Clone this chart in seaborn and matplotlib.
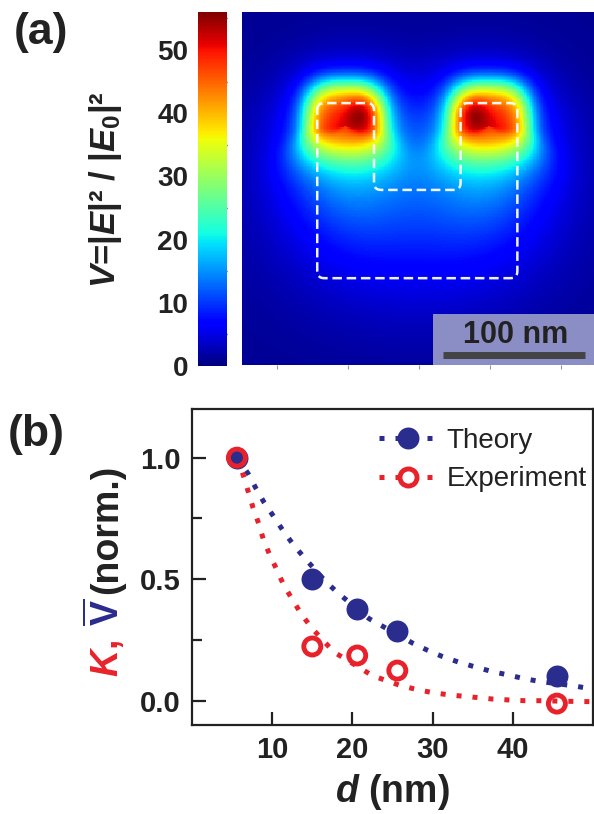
import numpy as np
import matplotlib
matplotlib.use("Agg")
import matplotlib.pyplot as plt
import seaborn as sns
from matplotlib.lines import Line2D
from matplotlib.patches import Rectangle
from matplotlib.ticker import MultipleLocator

# ---------------- data ----------------
# (a) field-enhancement map (nm grid, y downwards)
grid_nm = 248
cbar_ticks = [0, 10, 20, 30, 40, 50]
v_max = 56
post_left = [53, 154]          # nm
post_right = [93, 194]         # nm
post_top = 64
hot_x = [84, 163]              # hottest spot, toward the gap
hot_y = 71
core_amp, hot_amp, glow_amp = 36, 7, 12
broad_amp, base_level = 7, 1.0
outline_x = [53, 93, 93, 154, 154, 194, 194, 53]
outline_y = [64, 64, 125, 125, 64, 64, 187, 187]
hm_ticks = [25, 75, 125, 175, 225]
scalebar_nm = 100
scalebar_text = "100 nm"

# (b) normalized curves
d_points = [5.6, 15.0, 20.6, 25.6, 45.5]
v_theory = [1.0, 0.50, 0.376, 0.285, 0.103]
k_exp = [1.0, 0.223, 0.186, 0.124, -0.012]
blue_fit_d = [5.6, 7.0, 8.0, 9.0, 10.2, 11.3, 12.5, 13.9, 16.7, 18.2, 22.1,
              27.5, 29.4, 31.2, 33.3, 35.4, 37.4, 39.4, 41.5, 43.4, 47.4, 49.4, 50]
blue_fit_v = [1.0, 0.934, 0.872, 0.815, 0.757, 0.702, 0.648, 0.592, 0.489, 0.443, 0.337,
              0.237, 0.207, 0.182, 0.158, 0.138, 0.12, 0.106, 0.09, 0.079, 0.062, 0.051, 0.048]
red_fit_d = [5.6, 6.4, 7.0, 7.6, 8.3, 8.9, 9.7, 10.6, 11.4, 12.5, 13.6, 14.9, 17.7,
             22.5, 26.0, 28.3, 30.2, 32.3, 34.3, 37.4, 39.5, 41.5, 43.4, 47.6, 50]
red_fit_k = [1.0, 0.927, 0.861, 0.795, 0.730, 0.664, 0.599, 0.537, 0.478, 0.417, 0.358, 0.30, 0.20,
             0.103, 0.062, 0.044, 0.032, 0.023, 0.017, 0.007, 0.003, 0.0, 0.0, -0.003, -0.004]
x_ticks = [10, 20, 30, 40]
y_ticks = [0.0, 0.5, 1.0]
y_minor = [0.25, 0.75]

BLUE = "#2a2c8e"
RED = "#e8222b"
INK = "#222222"

# ---------------- style ----------------
sns.set_theme(style="ticks")
plt.rcParams["font.family"] = ["Liberation Sans", "DejaVu Sans"]
plt.rcParams["mathtext.fontset"] = "custom"
plt.rcParams["mathtext.rm"] = "Liberation Sans:bold"
plt.rcParams["mathtext.bf"] = "Liberation Sans:bold"
plt.rcParams["mathtext.it"] = "Liberation Sans:italic:bold"

W, H = 594, 814
fig = plt.figure(figsize=(W / 100, H / 100), dpi=100)

def fx(px):
    return px / W

def fy(py):
    return 1 - py / H

# ---------------- (a) ----------------
xs = np.arange(grid_nm) + 0.5
X, Y = np.meshgrid(xs, xs)
field = np.full_like(X, base_level)
field += broad_amp * np.exp(-((X - 124) / 90) ** 2 - ((Y - 140) / 70) ** 2)
core_yc = 80.0
ax_half, ay_up, ay_down = 27.0, 29.4, 17.0
for xl, xr, hx in zip(post_left, post_right, hot_x):
    cx = (xl + xr) / 2
    dx = np.abs(X - cx) / ax_half
    dyr = Y - core_yc
    dy = np.where(dyr < 0, -dyr / ay_up, dyr / ay_down)
    rho = (dx ** 3 + dy ** 3) ** (1 / 3)
    down_share = np.clip(np.where(dyr > 0, dy, 0) ** 2 / (rho ** 2 + 1e-9), 0, 1)
    s = 0.18 + 0.32 * down_share
    field += core_amp / (1 + np.exp((rho - 1) / s))
    field += hot_amp * np.exp(-((X - hx) / 11) ** 2 - ((Y - hot_y) / 12) ** 2)
    gy = Y - 90
    sy = np.where(gy < 0, 45, 60)
    field += glow_amp * np.exp(-((X - cx) / 45) ** 2 - (gy / sy) ** 2)

cax = fig.add_axes([fx(198), fy(366), fx(29), 354 / H])
ax1 = fig.add_axes([fx(242), fy(365), fx(352), 353 / H])
sns.heatmap(field, ax=ax1, cmap="jet", vmin=0, vmax=v_max, cbar_ax=cax,
            xticklabels=False, yticklabels=False, rasterized=True,
            cbar_kws={"ticks": cbar_ticks})

cax.yaxis.set_ticks_position("left")
cax.tick_params(axis="y", which="major", left=True, right=False, labelleft=True,
                labelright=False, length=0, pad=7, labelsize=20)
cax.yaxis.set_minor_locator(MultipleLocator(5))
cax.tick_params(axis="y", which="minor", left=False, right=True, direction="in",
                length=4, width=1, color=INK)
for t in cax.get_yticklabels():
    t.set_fontweight("bold")
    t.set_color(INK)
for s_ in cax.spines.values():
    s_.set_visible(False)

ax1.set_xticks(hm_ticks)
ax1.set_yticks([])
ax1.tick_params(axis="x", length=3, width=0.8, color="#999999", direction="out")
for s_ in ax1.spines.values():
    s_.set_visible(False)


def rounded_path(px, py, r=5, n=8):
    pts = np.column_stack([px, py]).astype(float)
    m = len(pts)
    out = []
    t = np.linspace(0, 1, n)[:, None]
    for i in range(m):
        p0, p1, p2 = pts[i - 1], pts[i], pts[(i + 1) % m]
        d1 = (p0 - p1) / np.linalg.norm(p0 - p1)
        d2 = (p2 - p1) / np.linalg.norm(p2 - p1)
        a, b = p1 + d1 * r, p1 + d2 * r
        out.append((1 - t) ** 2 * a + 2 * (1 - t) * t * p1 + t ** 2 * b)
    out = np.vstack(out + [out[0][:1]])
    return out[:, 0], out[:, 1]

ox, oy = rounded_path(outline_x, outline_y, r=5)
ax1.plot(ox, oy, color="white", lw=1.8, dashes=(3.8, 1.9), alpha=0.95)

ax1.add_patch(Rectangle((134.5, 212.5), 114, 37, facecolor="#8b8dc5",
                        edgecolor="none", zorder=5))
ax1.text(193, 227, scalebar_text, ha="center", va="center", fontsize=22,
         fontweight="bold", color=INK, zorder=6)
ax1.plot([141.5, 141.5 + scalebar_nm], [241, 241], color="#444444", lw=5,
         solid_capstyle="butt", zorder=6)

fig.text(fx(105), fy(190), "$V$=|$E$|² / |$E_0$|²", rotation=90, ha="center",
         va="center", fontsize=25, fontweight="bold", color=INK)
fig.text(fx(14), fy(12), "(a)", ha="left", va="top", fontsize=32, fontweight="bold",
         color=INK)

# ---------------- (b) ----------------
ax2 = fig.add_axes([fx(192), fy(725), fx(401), 316 / H])
dots = (0, (1, 2.2))
sns.lineplot(x=blue_fit_d, y=blue_fit_v, ax=ax2, color=BLUE, lw=3.6, sort=False,
             linestyle=dots, zorder=2)
sns.lineplot(x=red_fit_d, y=red_fit_k, ax=ax2, color=RED, lw=3.6, sort=False,
             linestyle=dots, zorder=2)
sns.scatterplot(x=d_points, y=v_theory, ax=ax2, color=BLUE, s=250, linewidth=0,
                zorder=3)
sns.scatterplot(x=d_points, y=k_exp, ax=ax2, color=RED, s=150, linewidth=3.5,
                zorder=4)
coll = ax2.collections[-1]
coll.set_facecolor("none")
coll.set_edgecolor(RED)
coll.set_linewidth(3.5)

ax2.set_xlim(0, 50)
ax2.set_ylim(-0.1, 1.2)
ax2.set_xticks(x_ticks)
ax2.set_yticks(y_ticks)
ax2.set_yticklabels([f"{v:.1f}" for v in y_ticks])
ax2.set_yticks(y_minor, minor=True)
ax2.tick_params(axis="both", which="major", direction="in", length=10, width=1.6,
                labelsize=21, pad=8, color=INK, labelcolor=INK,
                top=False, right=False)
ax2.tick_params(axis="x", which="major", length=9.5)
ax2.tick_params(axis="y", which="minor", direction="in", length=7, width=1.6,
                color=INK, left=True, right=False)
for t in ax2.get_xticklabels() + ax2.get_yticklabels():
    t.set_fontweight("bold")
for s_ in ax2.spines.values():
    s_.set_visible(True)
    s_.set_linewidth(1.6)
    s_.set_color(INK)

ax2.set_xlabel("$d$ (nm)", fontsize=27, fontweight="bold", color=INK, labelpad=6)
ax2.set_ylabel("")

handles = [
    Line2D([], [], color=BLUE, lw=3.6, linestyle=dots, marker="o", markersize=15.8,
           markerfacecolor=BLUE, markeredgewidth=0),
    Line2D([], [], color=RED, lw=3.6, linestyle=dots, marker="o", markersize=12.3,
           markerfacecolor="white", markeredgecolor=RED, markeredgewidth=3.5),
]
leg = ax2.legend(handles, ["Theory", "Experiment"], loc="upper right",
                 bbox_to_anchor=(0.985, 0.94), frameon=False, fontsize=20,
                 handlelength=2.1, handletextpad=0.35, labelspacing=0.45,
                 borderpad=0, borderaxespad=0)
for t in leg.get_texts():
    t.set_color(INK)

fig.text(fx(8), fy(414), "(b)", ha="left", va="top", fontsize=32, fontweight="bold",
         color=INK)

# composite y label for (b)
fig.canvas.draw()
renderer = fig.canvas.get_renderer()
pieces = [("$K$,", RED, 14), ("$\\overline{\\mathrm{V}}$", BLUE, 5),
          ("(norm.)", INK, 0)]
y_cursor = fy(677)
for txt, col, gap in pieces:
    t = fig.text(fx(107), y_cursor, txt, rotation=90, ha="center", va="bottom",
                 color=col, fontsize=27, fontweight="bold")
    bb = t.get_window_extent(renderer)
    y_cursor = (bb.y1 + gap) / H

fig.savefig("out.png", dpi=100)
